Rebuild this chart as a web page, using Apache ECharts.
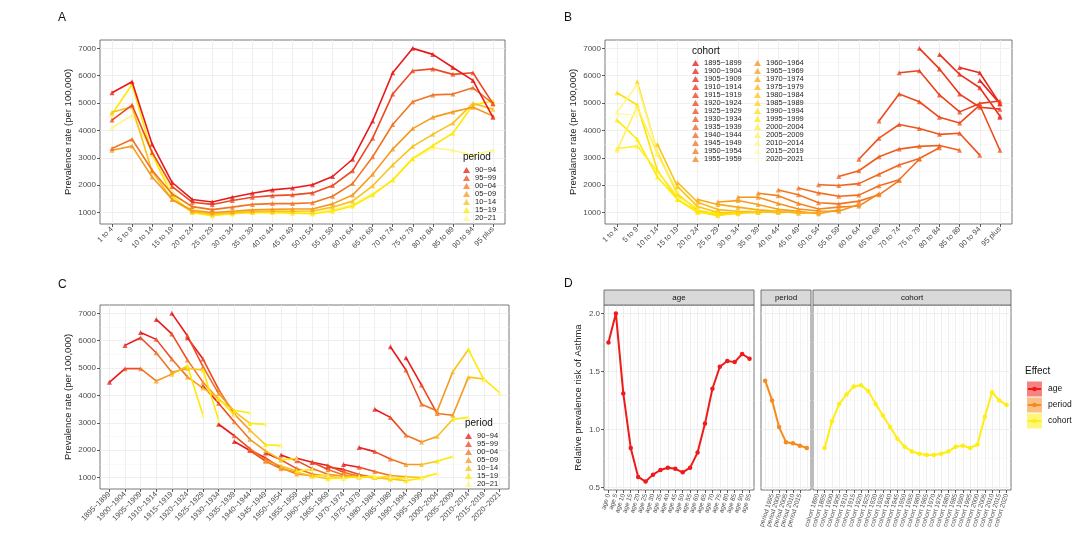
<!DOCTYPE html>
<html lang="en">
<head>
<meta charset="UTF-8">
<title>Asthma prevalence by age, period and cohort</title>
<script src="https://cdn.jsdelivr.net/npm/echarts@6/dist/echarts.min.js"></script>
<style>
    html, body { margin: 0; padding: 0; background: #fff; }
    #main { width: 1080px; height: 543px; }
</style>
</head>
<body>
<div id="main"></div>

<script type="text/javascript">
// ---- data ----
var ageGroups = ['1 to 4', '5 to 9', '10 to 14', '15 to 19', '20 to 24', '25 to 29', '30 to 34', '35 to 39',
    '40 to 44', '45 to 49', '50 to 54', '55 to 59', '60 to 64', '65 to 69', '70 to 74', '75 to 79',
    '80 to 84', '85 to 89', '90 to 94', '95 plus'];
var periods = ['90~94', '95~99', '00~04', '05~09', '10~14', '15~19', '20~21'];
var cohorts = ['1895~1899', '1900~1904', '1905~1909', '1910~1914', '1915~1919', '1920~1924', '1925~1929',
    '1930~1934', '1935~1939', '1940~1944', '1945~1949', '1950~1954', '1955~1959', '1960~1964',
    '1965~1969', '1970~1974', '1975~1979', '1980~1984', '1985~1989', '1990~1994', '1995~1999',
    '2000~2004', '2005~2009', '2010~2014', '2015~2019', '2020~2021'];

// prevalence per 100,000, one array per period, in age-group order
var rate9094 = [5380, 5780, 3500, 2100, 1480, 1390, 1560, 1710, 1830, 1900, 2020, 2320, 2950, 4350, 6110, 7000, 6780, 6300, 5830, 4480];
var rate9599 = [4380, 4930, 3200, 1950, 1380, 1300, 1440, 1560, 1620, 1650, 1720, 1990, 2530, 3720, 5330, 6180, 6250, 6050, 6110, 4980];
var rate0004 = [3340, 3680, 2550, 1680, 1220, 1110, 1200, 1300, 1330, 1330, 1360, 1600, 2060, 3040, 4220, 5050, 5300, 5330, 5560, 4980];
var rate0509 = [3280, 3430, 2300, 1480, 1080, 1000, 1050, 1100, 1120, 1130, 1130, 1320, 1640, 2400, 3320, 4070, 4480, 4680, 4850, 4530];
var rate1014 = [4670, 4870, 2500, 1480, 1030, 950, 1000, 1030, 1050, 1050, 1060, 1200, 1420, 1980, 2740, 3420, 3860, 4270, 4990, 4780];
var rate1519 = [4600, 5680, 3130, 1600, 1000, 890, 960, 1000, 1000, 980, 960, 1050, 1240, 1650, 2200, 2980, 3450, 3900, 4930, 5080];
var rate2021 = [4100, 4560, 3200, 1770, 1150, 980, 1000, 1050, 1060, 1040, 1000, 1100, 1300, 1700, 2170, 2950, 3370, 3280, 3100, 3280];
var rates = [rate9094, rate9599, rate0004, rate0509, rate1014, rate1519, rate2021];

var rateTicks = [1000, 2000, 3000, 4000, 5000, 6000, 7000];

// panel D: relative risk
var ageLabels = ['age 0', 'age 5', 'age 10', 'age 15', 'age 20', 'age 25', 'age 30', 'age 35', 'age 40', 'age 45',
    'age 50', 'age 55', 'age 60', 'age 65', 'age 70', 'age 75', 'age 80', 'age 85', 'age 90', 'age 95'];
var periodLabels = ['period 1990', 'period 1995', 'period 2000', 'period 2005', 'period 2010', 'period 2015', 'period 2020'];
var cohortLabels = ['cohort 1890', 'cohort 1895', 'cohort 1900', 'cohort 1905', 'cohort 1910', 'cohort 1915', 'cohort 1920',
    'cohort 1925', 'cohort 1930', 'cohort 1935', 'cohort 1940', 'cohort 1945', 'cohort 1950', 'cohort 1955',
    'cohort 1960', 'cohort 1965', 'cohort 1970', 'cohort 1975', 'cohort 1980', 'cohort 1985', 'cohort 1990',
    'cohort 1995', 'cohort 2000', 'cohort 2005', 'cohort 2010', 'cohort 2015', 'cohort 2020'];
var ageEffect = [1.75, 2.00, 1.31, 0.84, 0.59, 0.55, 0.61, 0.65, 0.67, 0.66, 0.63, 0.67, 0.80, 1.05, 1.35, 1.54, 1.59, 1.58, 1.65, 1.61];
var periodEffect = [1.42, 1.25, 1.02, 0.89, 0.88, 0.86, 0.84];
var cohortEffect = [null, 0.84, 1.07, 1.22, 1.30, 1.37, 1.38, 1.33, 1.22, 1.12, 1.02, 0.92, 0.85, 0.81, 0.79, 0.78,
    0.78, 0.79, 0.81, 0.85, 0.86, 0.84, 0.87, 1.11, 1.32, 1.25, 1.21];
var riskTicks = [0.5, 1.0, 1.5, 2.0];

// ---- styling ----
var FONT = '"Liberation Sans", Arial, sans-serif';
var periodColors = ['#E8191B', '#EC4A21', '#F07424', '#F49A20', '#F8C21A', '#FFE900', '#FFF68A'];
var effectColors = {age: '#EE1B1B', period: '#F58A1F', cohort: '#FFEE14'};

function seq(from, to, step) {
    var out = [];
    for (var v = from; v <= to + 1e-9; v += step) out.push(Math.round(v * 1000) / 1000);
    return out;
}
function padRange(arrays, frac) {
    var lo = Infinity, hi = -Infinity;
    arrays.forEach(function (arr) {
        arr.forEach(function (v) {
            if (v == null) return;
            lo = Math.min(lo, v); hi = Math.max(hi, v);
        });
    });
    var pad = (hi - lo) * frac;
    return [lo - pad, hi + pad];
}
// red -> orange -> yellow -> pale, for the 26 cohorts
function cohortColor(i) {
    var stops = [[0, [230, 22, 26]], [11, [242, 118, 32]], [16, [249, 186, 22]], [20, [255, 236, 0]], [25, [255, 252, 222]]];
    for (var k = 0; k < stops.length - 1; k++) {
        var a = stops[k], b = stops[k + 1];
        if (i <= b[0]) {
            var t = (i - a[0]) / (b[0] - a[0]);
            var c = a[1].map(function (x, j) { return Math.round(x + (b[1][j] - x) * t); });
            return 'rgb(' + c.join(',') + ')';
        }
    }
}

var xAxes = [], yAxes = [];

function catX(grid, labels, rotate, fontSize) {
    var ticks = seq(1, labels.length, 1);
    xAxes.push({
        type: 'value', gridIndex: grid, min: 0.4, max: labels.length + 0.6,
        axisLine: {show: false, onZero: false},
        axisTick: {show: true, customValues: ticks, length: 3, lineStyle: {color: '#333', width: 0.8}},
        axisLabel: {
            customValues: ticks, rotate: rotate, fontSize: fontSize, color: '#4D4D4D', fontFamily: FONT, margin: 4,
            formatter: function (v) { return labels[Math.round(v) - 1]; }
        },
        splitLine: {show: true, lineStyle: {color: '#EBEBEB', width: 0.8}}
    });
    return xAxes.length - 1;
}
function minorX(grid, n) {
    xAxes.push({
        type: 'value', gridIndex: grid, min: 0.4, max: n + 0.6, position: 'top',
        axisLine: {show: false}, axisLabel: {show: false},
        axisTick: {show: false, customValues: seq(1.5, n - 0.5, 1)},
        splitLine: {show: true, lineStyle: {color: '#F4F4F4', width: 0.5}}
    });
}
function valY(grid, range, ticks, minor, fmt, name, nameGap, showLabels) {
    yAxes.push({
        type: 'value', gridIndex: grid, min: range[0], max: range[1], position: 'right',
        axisLine: {show: false}, axisLabel: {show: false},
        axisTick: {show: false, customValues: minor},
        splitLine: {show: true, lineStyle: {color: '#F4F4F4', width: 0.5}}
    });
    yAxes.push({
        type: 'value', gridIndex: grid, min: range[0], max: range[1], position: 'left',
        axisLine: {show: false, onZero: false},
        axisTick: {show: showLabels, customValues: ticks, length: 3, lineStyle: {color: '#333', width: 0.8}},
        axisLabel: {
            show: showLabels, customValues: ticks, fontSize: 8, color: '#4D4D4D', fontFamily: FONT, margin: 4,
            formatter: fmt
        },
        splitLine: {show: true, lineStyle: {color: '#EBEBEB', width: 0.8}},
        name: name, nameLocation: 'middle', nameGap: nameGap, nameRotate: 90,
        nameTextStyle: {fontSize: 9.5, color: '#222', fontFamily: FONT}
    });
    return yAxes.length - 1;
}

var gridBase = {show: true, borderColor: '#555', borderWidth: 0.8, backgroundColor: 'transparent', containLabel: false, outerBoundsMode: 'none'};
var grids = [
    {left: 100, top: 40, width: 405, height: 184},   // A
    {left: 605, top: 40, width: 407, height: 184},   // B
    {left: 100, top: 305, width: 409, height: 184},  // C
    {left: 604, top: 305, width: 150, height: 185},  // D age
    {left: 761, top: 305, width: 50, height: 185},   // D period
    {left: 813, top: 305, width: 198, height: 185}   // D cohort
].map(function (g) { return Object.assign({}, gridBase, g); });

var rateRange = padRange(rates, 0.05);
var riskRange = padRange([ageEffect, periodEffect, cohortEffect], 0.05);
var rateFmt = function (v) { return String(v); };
var riskFmt = function (v) { return v.toFixed(1); };

var xA = catX(0, ageGroups, 45, 7.5);
var yA = valY(0, rateRange, rateTicks, seq(1500, 6500, 1000), rateFmt, 'Prevalence rate (per 100,000)', 27, true);
var xB = catX(1, ageGroups, 45, 7.5);
var yB = valY(1, rateRange, rateTicks, seq(1500, 6500, 1000), rateFmt, 'Prevalance rate (per 100,000)', 27, true);
var xC = catX(2, cohorts, 45, 7.5);
var yC = valY(2, rateRange, rateTicks, seq(1500, 6500, 1000), rateFmt, 'Prevalence rate (per 100,000)', 27, true);

var xDa = catX(3, ageLabels, 72, 6.5); minorX(3, ageLabels.length);
var yDa = valY(3, riskRange, riskTicks, [0.75, 1.25, 1.75], riskFmt, 'Relative prevalence risk of Asthma', 21, true);
var xDp = catX(4, periodLabels, 72, 6.5); minorX(4, periodLabels.length);
var yDp = valY(4, riskRange, riskTicks, [0.75, 1.25, 1.75], riskFmt, '', 0, false);
var xDc = catX(5, cohortLabels, 72, 6.5); minorX(5, cohortLabels.length);
var yDc = valY(5, riskRange, riskTicks, [0.75, 1.25, 1.75], riskFmt, '', 0, false);

var series = [];

// A: one line per period across age groups
periods.forEach(function (p, i) {
    series.push({
        type: 'line', name: p, xAxisIndex: xA, yAxisIndex: yA,
        data: rates[i].map(function (v, a) { return [a + 1, v]; }),
        color: periodColors[i], symbol: 'triangle', symbolSize: 5,
        lineStyle: {width: 1.6}, itemStyle: {opacity: 0.75}, z: 10 - i
    });
});

// B: one line per birth cohort across age groups (cohort = period - age)
cohorts.forEach(function (c, ci) {
    var pts = [];
    for (var p = 0; p < periods.length; p++) {
        var a = p - ci + 19;
        if (a >= 0 && a < ageGroups.length) pts.push([a + 1, rates[p][a]]);
    }
    pts.sort(function (u, v) { return u[0] - v[0]; });
    series.push({
        type: 'line', name: c, xAxisIndex: xB, yAxisIndex: yB, data: pts,
        color: cohortColor(ci), symbol: 'triangle', symbolSize: 5,
        lineStyle: {width: 1.6}, itemStyle: {opacity: 0.75}
    });
});

// C: x = cohort, lines follow one age group, segments coloured by period
for (var a = 0; a < ageGroups.length; a++) {
    for (var p = 0; p < periods.length - 1; p++) {
        var c0 = p - a + 19;
        series.push({
            type: 'line', name: 'seg', xAxisIndex: xC, yAxisIndex: yC,
            data: [[c0 + 1, rates[p][a]], [c0 + 2, rates[p + 1][a]]],
            color: periodColors[p], symbol: 'none', lineStyle: {width: 1.6}, z: 3
        });
    }
}
periods.forEach(function (pn, p) {
    series.push({
        type: 'scatter', name: pn, xAxisIndex: xC, yAxisIndex: yC,
        data: rates[p].map(function (v, a) { return [p - a + 20, v]; }),
        color: periodColors[p], symbol: 'triangle', symbolSize: 5, itemStyle: {opacity: 0.75}, z: 4
    });
});

// D: relative risk effects
[[ageEffect, 'age', xDa, yDa], [periodEffect, 'period', xDp, yDp], [cohortEffect, 'cohort', xDc, yDc]].forEach(function (s) {
    series.push({
        type: 'line', name: s[1], xAxisIndex: s[2], yAxisIndex: s[3],
        data: s[0].map(function (v, i) { return [i + 1, v]; }),
        connectNulls: false, color: effectColors[s[1]], symbol: 'circle', symbolSize: 4.5,
        lineStyle: {width: 2}
    });
});

// text, strips and the "Effect" key
function txt(x, y, text, size, align) {
    return {
        type: 'text', x: x, y: y, z: 100,
        style: {text: text, fontSize: size, fontFamily: FONT, fill: '#111', textAlign: align || 'left', textVerticalAlign: 'middle'}
    };
}
var graphics = [
    txt(58, 18, 'A', 12), txt(564, 18, 'B', 12), txt(58, 285, 'C', 12), txt(564, 284, 'D', 12),
    txt(463, 157, 'period', 10), txt(692, 51, 'cohort', 10), txt(465, 423, 'period', 10),
    txt(1025, 371, 'Effect', 10)
];
[['age', 604, 150], ['period', 761, 50], ['cohort', 813, 198]].forEach(function (s) {
    graphics.push({type: 'rect', shape: {x: s[1], y: 290, width: s[2], height: 15},
        style: {fill: '#D9D9D9', stroke: '#555', lineWidth: 0.8}, z: 100});
    graphics.push(txt(s[1] + s[2] / 2, 297.5, s[0], 8, 'center'));
});
['age', 'period', 'cohort'].forEach(function (k, i) {
    var cy = 389 + 16 * i;
    graphics.push({type: 'rect', shape: {x: 1027, y: cy - 7.5, width: 15, height: 15},
        style: {fill: effectColors[k], opacity: 0.55}, z: 100});
    graphics.push({type: 'line', shape: {x1: 1028, y1: cy, x2: 1041, y2: cy},
        style: {stroke: effectColors[k], lineWidth: 2}, z: 101});
    graphics.push({type: 'circle', shape: {cx: 1034.5, cy: cy, r: 2.3},
        style: {fill: effectColors[k]}, z: 101});
    graphics.push(txt(1048, cy, k, 8.5));
});

var legendText = {fontSize: 7.5, lineHeight: 7.7, color: '#222', fontFamily: FONT};
var option = {
    animation: false,
    backgroundColor: '#fff',
    grid: grids,
    xAxis: xAxes,
    yAxis: yAxes,
    legend: [
        {orient: 'vertical', left: 463, top: 166, padding: 0, itemGap: 0, itemWidth: 7, itemHeight: 6,
            icon: 'triangle', selectedMode: false, data: periods, textStyle: legendText},
        {orient: 'vertical', left: 692, top: 59, height: 104, padding: 0, itemGap: 0, itemWidth: 7, itemHeight: 6,
            icon: 'triangle', selectedMode: false, data: cohorts,
            textStyle: Object.assign({width: 50}, legendText)},
        {orient: 'vertical', left: 465, top: 432, padding: 0, itemGap: 0, itemWidth: 7, itemHeight: 6,
            icon: 'triangle', selectedMode: false, data: periods, textStyle: legendText}
    ],
    graphic: graphics,
    series: series
};

var myChart = echarts.init(document.getElementById('main'));
myChart.setOption(option);
</script>
</body>
</html>
